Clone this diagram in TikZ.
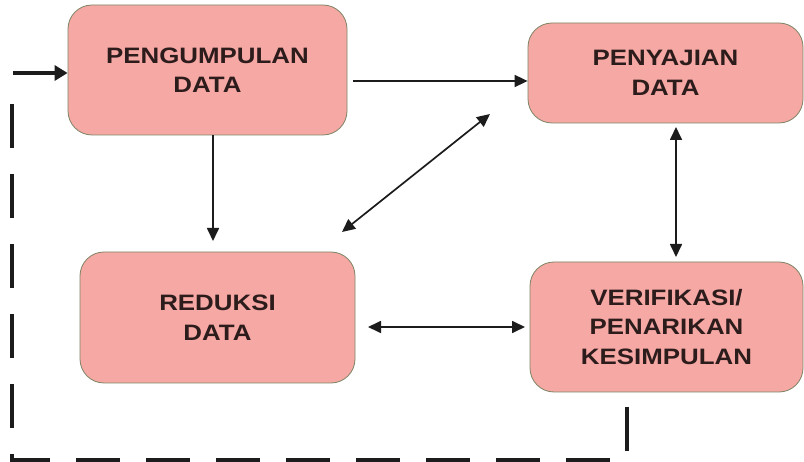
\documentclass[tikz,border=0pt]{standalone}
\usepackage{fontspec}
\setmainfont{Liberation Sans}[FakeStretch=1.16]
\usetikzlibrary{arrows.meta}
\definecolor{boxfill}{RGB}{246,168,164}
\definecolor{boxline}{RGB}{125,132,100}
\definecolor{txt}{RGB}{45,28,28}
\definecolor{ink}{RGB}{28,28,28}
\begin{document}
\begin{tikzpicture}[x=1pt,y=-1pt,
  box/.style={draw=boxline, line width=0.8pt, fill=boxfill, rounded corners=24pt,
    align=center, inner sep=0pt, text=txt,
    font=\fontsize{22.3}{29.5}\selectfont\bfseries},
  conn/.style={draw=ink, line width=1.7pt, -{Triangle[length=13pt,width=12pt]}},
  dconn/.style={draw=ink, line width=1.7pt, {Triangle[length=13pt,width=12pt]}-{Triangle[length=13pt,width=12pt]}},
  entry/.style={draw=ink, line width=3.2pt, -{Triangle[length=13pt,width=15pt]}},
  loopline/.style={draw=ink, line width=4.5pt, dash pattern=on 44pt off 26pt}
]
\useasboundingbox (0,0) rectangle (804,462);
\fill[white] (0,0) rectangle (804,462);

\node[box, minimum width=279pt, minimum height=130pt] (b1) at (207.5,70) {PENGUMPULAN\\DATA};
\node[box, minimum width=275pt, minimum height=100pt] (b2) at (665.5,73) {PENYAJIAN\\DATA};
\node[box, minimum width=275pt, minimum height=131pt] (b3) at (217.5,317.5) {REDUKSI\\DATA};
\node[box, minimum width=273pt, minimum height=130pt] (b4) at (666.5,327) {VERIFIKASI/\\PENARIKAN\\KESIMPULAN};

% entry arrow
\coordinate (e0) at (13,73);
\draw[entry] (e0) -- (b1.west |- e0);

% pengumpulan -> penyajian
\coordinate (c12) at (353,81);
\draw[conn] (c12) -- (b2.west |- c12);

% pengumpulan -> reduksi
\coordinate (d0) at (213,241);
\draw[conn] (b1.south -| d0) -- (d0);

% reduksi <-> penyajian (diagonal)
\coordinate (g1) at (342,232);
\coordinate (g2) at (490,114);
\draw[dconn] (g1) -- (g2);

% penyajian <-> verifikasi
\coordinate (v1) at (676,127);
\coordinate (v2) at (676,257);
\draw[dconn] (v1) -- (v2);

% reduksi <-> verifikasi
\coordinate (h1) at (368,327);
\coordinate (h2) at (525,327);
\draw[dconn] (h1) -- (h2);

% dashed feedback loop
\coordinate (k0) at (627,407);
\draw[loopline] (k0) -- (627,460) -- (12,460) -- (12,97);
\end{tikzpicture}
\end{document}
